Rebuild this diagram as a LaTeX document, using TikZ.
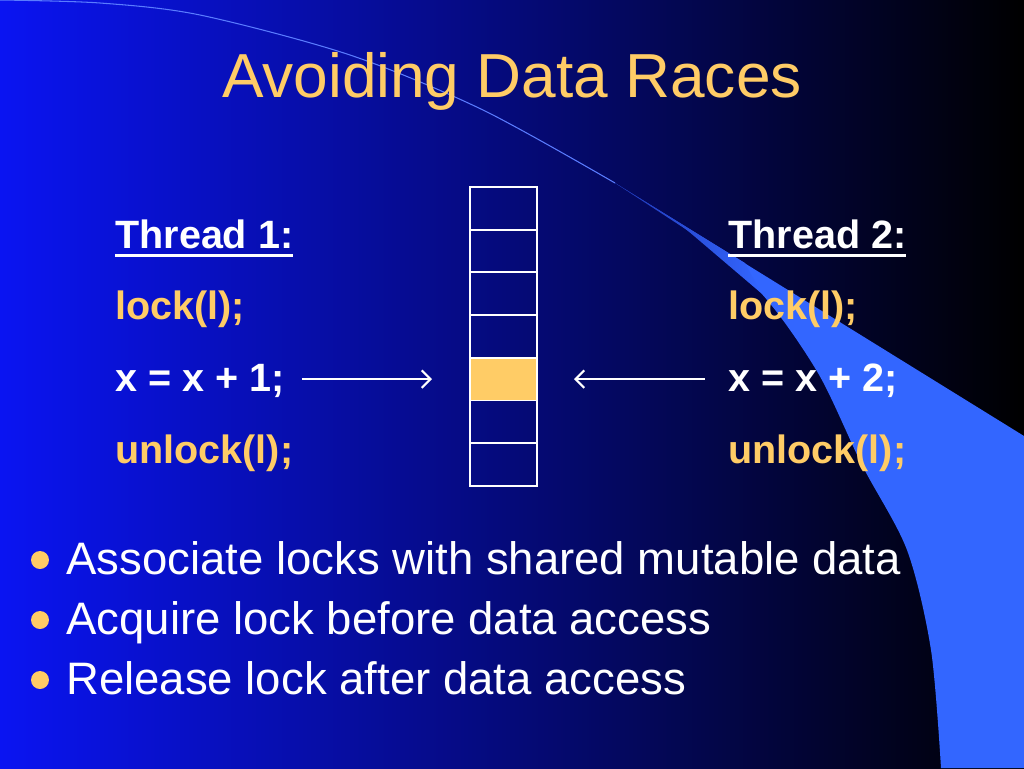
\documentclass[tikz,border=0pt]{standalone}
\usepackage{fontspec}
\setmainfont{Liberation Sans}
\usetikzlibrary{arrows.meta,positioning,calc}
\definecolor{slidegold}{HTML}{FFCC66}
\definecolor{swooshblue}{HTML}{3366FF}
\definecolor{foldblue}{HTML}{2036B4}
\definecolor{bgleft}{HTML}{0A14F2}
\definecolor{bgmid}{HTML}{0000B8}
\definecolor{edgeblue}{HTML}{5A7CFF}
\newcommand{\thickul}[1]{\setbox0\hbox{#1}\rlap{\rule[-5.2pt]{\wd0}{2pt}}\box0}

\begin{document}
\begin{tikzpicture}[
  x=0.02cm, y=-0.02cm,
  titletext/.style = {text=slidegold, font=\fontsize{35.4}{42}\selectfont,
                      inner sep=0pt, anchor=base},
  code/.style      = {font=\bfseries\fontsize{22.5}{26}\selectfont,
                      inner sep=0pt, anchor=base west},
  codegold/.style  = {code, text=slidegold},
  codewhite/.style = {code, text=white},
  cellbox/.style   = {draw=white, line width=1.1pt, minimum width=1.34cm,
                      minimum height=0.854cm, inner sep=0pt},
  arr/.style       = {-{Straight Barb[length=5pt,width=10pt]}, white, line width=1.2pt},
  bulletdot/.style = {circle, fill=slidegold, minimum size=0.36cm, inner sep=0pt},
  pointtext/.style = {text=white, font=\fontsize{25.9}{30}\selectfont,
                      inner sep=0pt, anchor=base west},
]
% Background
\useasboundingbox (0,0) rectangle (1024,768);
\shade[left color=bgleft, middle color=bgmid, right color=black] (0,0) rectangle (1024,768);

% Swoosh
\draw[edgeblue, line width=0.6pt] plot[smooth] coordinates
  {(0,0) (100,3) (200,15) (350,55) (483,110) (615,183)};
\fill[swooshblue] (615,183) -- (1024,436) -- (1024,768) -- (941,768)
  -- plot[smooth] coordinates {(941,768) (931,650) (907,550) (862,465)
     (818,373) (761,293) (687,230) (615,183)} -- cycle;
\shade[left color=foldblue, right color=swooshblue]
  (615,183) -- (745,263) -- (761,293) -- (687,230) -- cycle;

% Title
\node[titletext] (title) at (512,97) {Avoiding Data Races};

% Thread 1
\node[codewhite] (t1head)   at (115,248) {\thickul{Thread 1:}};
\node[codegold]  (t1lock)   at (115,319) {lock(l);};
\node[codewhite] (t1inc)    at (115,391) {x = x + 1;};
\node[codegold]  (t1unlock) at (115,463) {unlock(l);};

% Thread 2
\node[codewhite] (t2head)   at (728,248) {\thickul{Thread 2:}};
\node[codegold]  (t2lock)   at (728,319) {lock(l);};
\node[codewhite] (t2inc)    at (728,391) {x = x + 2;};
\node[codegold]  (t2unlock) at (728,463) {unlock(l);};

% Memory
\foreach \i/\f in {1/none,2/none,3/none,4/none,5/slidegold,6/none,7/none}
  \node[cellbox, fill=\f] (cell\i) at (503.5, {187+42.7*(\i-0.5)}) {};

% Arrows
\draw[arr, shorten <=0.34cm, shorten >=0.74cm] (t1inc.east |- cell5.west) -- (cell5.west);
\draw[arr, shorten <=0.46cm, shorten >=0.72cm] (t2inc.west |- cell5.east) -- (cell5.east);

% Bullets
\node[bulletdot] (dot1) at (40,560) {};
\node[pointtext] (pt1)  at (66,574) {Associate locks with shared mutable data};
\node[bulletdot] (dot2) at (40,620) {};
\node[pointtext] (pt2)  at (66,634) {Acquire lock before data access};
\node[bulletdot] (dot3) at (40,680) {};
\node[pointtext] (pt3)  at (66,694) {Release lock after data access};
\end{tikzpicture}
\end{document}
